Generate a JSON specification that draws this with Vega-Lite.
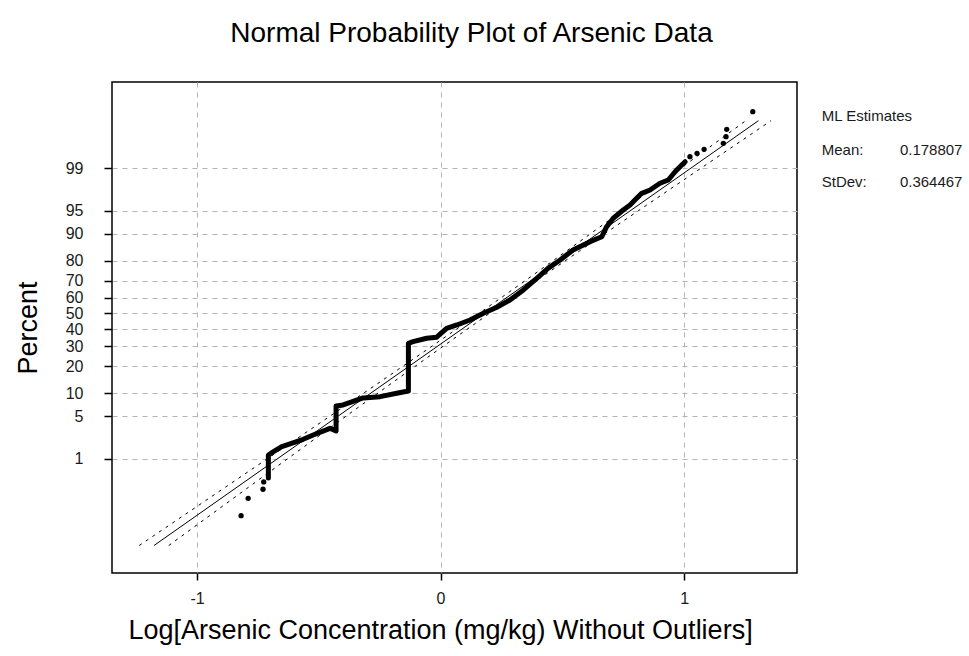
{
  "$schema": "https://vega.github.io/schema/vega-lite/v6.json",
  "autosize": "none",
  "width": 685,
  "height": 491,
  "padding": {"left": 112, "top": 82, "right": 172, "bottom": 83},
  "background": "white",
  "title": {
    "text": "Normal Probability Plot of Arsenic Data",
    "font": "Liberation Sans",
    "fontSize": 28,
    "fontWeight": "normal",
    "color": "black",
    "anchor": "middle",
    "frame": "group",
    "baseline": "alphabetic",
    "offset": 12,
    "dx": 17
  },
  "config": {
    "view": {"stroke": "black", "strokeWidth": 1.5},
    "axis": {
      "labelFont": "Liberation Sans",
      "labelFontSize": 16,
      "labelColor": "#1a1a1a",
      "labelOverlap": false,
      "titleFont": "Liberation Sans",
      "titleFontSize": 27,
      "titleFontWeight": "normal",
      "titleColor": "black",
      "domain": false,
      "tickColor": "black",
      "tickWidth": 1.5,
      "grid": true,
      "gridColor": "#b4b4b4",
      "gridDash": [5, 5],
      "gridWidth": 1
    }
  },
  "datasets": {
    "bands": [
      {"band": "left", "x": -1.2374, "z": -3.719},
      {"band": "left", "x": -0.9652, "z": -3.0},
      {"band": "left", "x": -0.7105, "z": -2.326},
      {"band": "left", "x": -0.4538, "z": -1.645},
      {"band": "left", "x": -0.2121, "z": -1.0},
      {"band": "left", "x": -0.0263, "z": -0.5},
      {"band": "left", "x": 0.1573, "z": 0.0},
      {"band": "left", "x": 0.3383, "z": 0.5},
      {"band": "left", "x": 0.5169, "z": 1.0},
      {"band": "left", "x": 0.7454, "z": 1.645},
      {"band": "left", "x": 0.9851, "z": 2.326},
      {"band": "left", "x": 1.2533, "z": 3.09},
      {"band": "right", "x": -1.1162, "z": -3.719},
      {"band": "right", "x": -0.8642, "z": -3.0},
      {"band": "right", "x": -0.6275, "z": -2.326},
      {"band": "right", "x": -0.3878, "z": -1.645},
      {"band": "right", "x": -0.1593, "z": -1.0},
      {"band": "right", "x": 0.0194, "z": -0.5},
      {"band": "right", "x": 0.2003, "z": 0.0},
      {"band": "right", "x": 0.3839, "z": 0.5},
      {"band": "right", "x": 0.5697, "z": 1.0},
      {"band": "right", "x": 0.8114, "z": 1.645},
      {"band": "right", "x": 1.0681, "z": 2.326},
      {"band": "right", "x": 1.3569, "z": 3.09}
    ],
    "fit": [
      {"x": -1.1767, "z": -3.719},
      {"x": 1.3051, "z": 3.09}
    ],
    "path": [
      {"seq": 1, "x": -0.707, "z": -2.636},
      {"seq": 2, "x": -0.707, "z": -2.268},
      {"seq": 3, "x": -0.686, "z": -2.215},
      {"seq": 4, "x": -0.652, "z": -2.135},
      {"seq": 5, "x": -0.618, "z": -2.091},
      {"seq": 6, "x": -0.564, "z": -2.016},
      {"seq": 7, "x": -0.523, "z": -1.947},
      {"seq": 8, "x": -0.454, "z": -1.84},
      {"seq": 9, "x": -0.429, "z": -1.883},
      {"seq": 10, "x": -0.429, "z": -1.482},
      {"seq": 11, "x": -0.4, "z": -1.466},
      {"seq": 12, "x": -0.318, "z": -1.354},
      {"seq": 13, "x": -0.248, "z": -1.333},
      {"seq": 14, "x": -0.18, "z": -1.279},
      {"seq": 15, "x": -0.132, "z": -1.242},
      {"seq": 16, "x": -0.132, "z": -0.478},
      {"seq": 17, "x": -0.113, "z": -0.452},
      {"seq": 18, "x": -0.057, "z": -0.397},
      {"seq": 19, "x": -0.016, "z": -0.381},
      {"seq": 20, "x": -0.002, "z": -0.329},
      {"seq": 21, "x": 0.025, "z": -0.237},
      {"seq": 22, "x": 0.067, "z": -0.184},
      {"seq": 23, "x": 0.121, "z": -0.104},
      {"seq": 24, "x": 0.176, "z": 0.003},
      {"seq": 25, "x": 0.231, "z": 0.099},
      {"seq": 26, "x": 0.285, "z": 0.216},
      {"seq": 27, "x": 0.34, "z": 0.377},
      {"seq": 28, "x": 0.395, "z": 0.564},
      {"seq": 29, "x": 0.441, "z": 0.724},
      {"seq": 30, "x": 0.491, "z": 0.857},
      {"seq": 31, "x": 0.544, "z": 1.018},
      {"seq": 32, "x": 0.614, "z": 1.151},
      {"seq": 33, "x": 0.662, "z": 1.231},
      {"seq": 34, "x": 0.682, "z": 1.391},
      {"seq": 35, "x": 0.709, "z": 1.526},
      {"seq": 36, "x": 0.75, "z": 1.659},
      {"seq": 37, "x": 0.778, "z": 1.739},
      {"seq": 38, "x": 0.805, "z": 1.846},
      {"seq": 39, "x": 0.826, "z": 1.926},
      {"seq": 40, "x": 0.86, "z": 1.979},
      {"seq": 41, "x": 0.901, "z": 2.087},
      {"seq": 42, "x": 0.935, "z": 2.139},
      {"seq": 43, "x": 0.963, "z": 2.272},
      {"seq": 44, "x": 0.983, "z": 2.353},
      {"seq": 45, "x": 1.004, "z": 2.433}
    ],
    "points": [
      {"x": -0.819, "z": -3.24},
      {"x": -0.79, "z": -2.962},
      {"x": -0.729, "z": -2.817},
      {"x": -0.726, "z": -2.7},
      {"x": 1.024, "z": 2.513},
      {"x": 1.053, "z": 2.567},
      {"x": 1.082, "z": 2.631},
      {"x": 1.161, "z": 2.728},
      {"x": 1.172, "z": 2.833},
      {"x": 1.175, "z": 2.952},
      {"x": 1.282, "z": 3.234}
    ],
    "notes": [
      {"x": 1.565, "z": 3.09, "label": "ML Estimates"},
      {"x": 1.565, "z": 2.54, "label": "Mean:"},
      {"x": 1.886, "z": 2.54, "label": "0.178807"},
      {"x": 1.565, "z": 2.02, "label": "StDev:"},
      {"x": 1.886, "z": 2.02, "label": "0.364467"}
    ]
  },
  "encoding": {
    "x": {
      "field": "x",
      "type": "quantitative",
      "scale": {"domain": [-1.349, 1.4635], "nice": false, "zero": false},
      "axis": {
        "values": [-1, 0, 1],
        "labelExpr": "datum.value < 0 ? '-' + abs(datum.value) : '' + datum.value",
        "tickSize": 7,
        "labelPadding": 10,
        "title": "Log[Arsenic Concentration (mg/kg) Without Outliers]",
        "titleX": 328,
        "titleY": 65,
        "titleAlign": "center",
        "titleBaseline": "alphabetic"
      }
    },
    "y": {
      "field": "z",
      "type": "quantitative",
      "scale": {"domain": [-4.159, 3.71], "nice": false, "zero": false},
      "axis": {
        "values": [-2.3263, -1.6449, -1.2816, -0.8416, -0.5244, -0.2533, 0, 0.2533, 0.5244, 0.8416, 1.2816, 1.6449, 2.3263],
        "labelExpr": "format(round(cumulativeNormal(datum.value) * 100), 'd')",
        "tickSize": 8,
        "labelPadding": 21,
        "title": "Percent",
        "titleX": -84,
        "titleY": 245.5,
        "titleAngle": 270,
        "titleAlign": "center",
        "titleBaseline": "middle"
      }
    }
  },
  "layer": [
    {
      "data": {"name": "bands"},
      "mark": {"type": "line", "color": "black", "strokeWidth": 1, "strokeDash": [3, 5]},
      "encoding": {"detail": {"field": "band", "type": "nominal"}}
    },
    {
      "data": {"name": "fit"},
      "mark": {"type": "line", "color": "black", "strokeWidth": 1},
      "encoding": {}
    },
    {
      "data": {"name": "path"},
      "mark": {"type": "line", "color": "black", "strokeWidth": 5, "strokeJoin": "round", "strokeCap": "round"},
      "encoding": {"order": {"field": "seq", "type": "quantitative"}}
    },
    {
      "data": {"name": "points"},
      "mark": {"type": "circle", "color": "black", "opacity": 1, "size": 28}
    },
    {
      "data": {"name": "notes"},
      "mark": {"type": "text", "align": "left", "baseline": "alphabetic", "font": "Liberation Sans", "fontSize": 15, "color": "#1a1a1a"},
      "encoding": {"text": {"field": "label", "type": "nominal"}}
    }
  ]
}
